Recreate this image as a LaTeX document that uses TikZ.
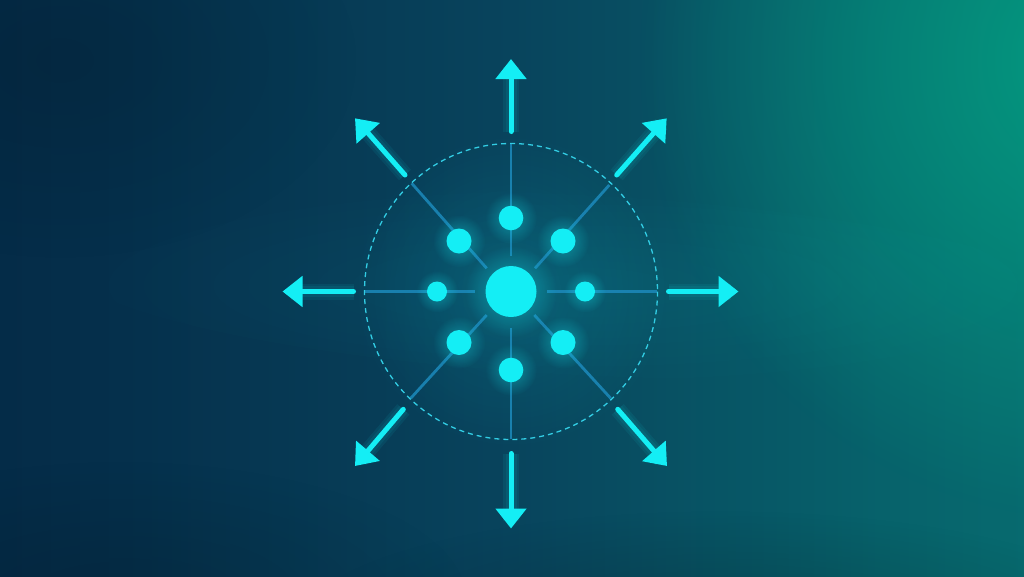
\documentclass[tikz,border=0pt]{standalone}
\usetikzlibrary{arrows.meta,fadings}
\definecolor{bg0}{RGB}{2,26,54}
\definecolor{bg1}{RGB}{5,48,76}
\definecolor{bg2}{RGB}{8,68,93}
\definecolor{bg3}{RGB}{7,98,107}
\definecolor{bg4}{RGB}{8,134,124}
\definecolor{bgG}{RGB}{4,160,130}
\definecolor{neon}{RGB}{20,238,245}
\definecolor{spoke}{RGB}{28,138,188}
\definecolor{ring}{RGB}{50,205,228}
\pgfdeclarehorizontalshading{bgshade}{100bp}{color(0bp)=(bg0); color(31bp)=(bg1); color(50bp)=(bg2); color(68bp)=(bg3); color(100bp)=(bg4)}
\tikzfading[name=glowfade, inner color=transparent!0, outer color=transparent!100]
\begin{document}
\begin{tikzpicture}[x=1pt,y=-1pt,
  dot/.style={circle,fill=neon,inner sep=0pt,minimum size=#1},
  spokeline/.style={draw=spoke,line width=2.8pt,opacity=0.85},
  ray/.style={draw=neon,line width=5pt,line cap=round,-{Triangle[length=20pt,width=30pt]}},
  halo/.style={draw=neon,line width=#1,opacity=0.07,line cap=butt,shorten >=8pt},
  softglow/.style={fill=neon,opacity=#1,path fading=glowfade},
]
\useasboundingbox (0,0) rectangle (1024,576);
% background
\fill[shading=bgshade] (0,0) rectangle (1024,576);
\fill[bgG,opacity=0.9,path fading=glowfade] (1100,60) ellipse (460 and 460);
\fill[black,opacity=0.2,path fading=glowfade] (720,630) ellipse (430 and 120);
\fill[black,opacity=0.15,path fading=glowfade] (120,600) ellipse (350 and 140);
\fill[black,opacity=0.12,path fading=glowfade] (60,60) ellipse (300 and 200);
\fill[neon,opacity=0.06,path fading=glowfade,rotate around={-3:(580,285)}] (580,285) ellipse (520 and 90);
\fill[softglow=0.12] (511,291) circle (160);

% coordinates
\coordinate (C) at (511,291.5);
% spoke ends
\coordinate (sN1) at (511,144);   \coordinate (sN2) at (511,256);
\coordinate (sS1) at (511,439);   \coordinate (sS2) at (511,328);
\coordinate (sW1) at (365,291.5); \coordinate (sW2) at (475,291.5);
\coordinate (sE1) at (657,291.5); \coordinate (sE2) at (547,291.5);
\coordinate (sNW1) at (411.7,183.3); \coordinate (sNW2) at (486.7,268.3);
\coordinate (sNE1) at (609.3,185);   \coordinate (sNE2) at (535,268.3);
\coordinate (sSW1) at (410.7,398.3); \coordinate (sSW2) at (486.7,315);
\coordinate (sSE1) at (610.7,398.3); \coordinate (sSE2) at (534.3,315);
% arrow tails and tips
\coordinate (tN) at (511,131.5);  \coordinate (hN) at (511,59);
\coordinate (tS) at (511,453.5);  \coordinate (hS) at (511,528.5);
\coordinate (tW) at (353.5,291.5);\coordinate (hW) at (282.5,291.5);
\coordinate (tE) at (668.5,291.5);\coordinate (hE) at (738.5,291.5);
\coordinate (tNE) at (616.7,175); \coordinate (hNE) at (666.7,118.3);
\coordinate (tNW) at (405,175);   \coordinate (hNW) at (355,118.3);
\coordinate (tSE) at (617.7,409.3); \coordinate (hSE) at (667,466);
\coordinate (tSW) at (403.3,409.3); \coordinate (hSW) at (355,466);

% spokes
\foreach \a/\b in {sN1/sN2,sS1/sS2,sW1/sW2,sE1/sE2,sNW1/sNW2,sNE1/sNE2,sSW1/sSW2,sSE1/sSE2}
  \draw[spokeline] (\a) -- (\b);

% dashed ring
\draw[ring,line width=1.3pt,dash pattern=on 5pt off 4pt] (C) ellipse (146.5 and 148);

% arrow glow
\foreach \a/\b in {tN/hN,tS/hS,tW/hW,tE/hE,tNE/hNE,tNW/hNW,tSE/hSE,tSW/hSW}{
  \draw[halo=16pt] (\a) -- (\b);
  \draw[halo=11pt] (\a) -- (\b);
}
% arrows
\foreach \a/\b in {tN/hN,tS/hS,tW/hW,tE/hE,tNE/hNE,tNW/hNW,tSE/hSE,tSW/hSW}
  \draw[ray] (\a) -- (\b);

% dot glows
\fill[softglow=0.45] (511,291.5) circle (46);
\foreach \p/\r in {{(511,218)}/12.3,{(511,370)}/12.3,{(437,291.5)}/10,{(585,291.5)}/10,
  {(459,241)}/12.5,{(563,241)}/12.5,{(459,342.5)}/12.5,{(563,342.5)}/12.5}
  \fill[softglow=0.4] \p circle ({2.1*\r});

% dots
\node[dot=51pt] (hub) at (C) {};
\node[dot=24.6pt] (dN) at (511,218) {};
\node[dot=24.6pt] (dS) at (511,370) {};
\node[dot=20pt] (dW) at (437,291.5) {};
\node[dot=20pt] (dE) at (585,291.5) {};
\node[dot=25pt] (dNW) at (459,241) {};
\node[dot=25pt] (dNE) at (563,241) {};
\node[dot=25pt] (dSW) at (459,342.5) {};
\node[dot=25pt] (dSE) at (563,342.5) {};
\end{tikzpicture}
\end{document}
